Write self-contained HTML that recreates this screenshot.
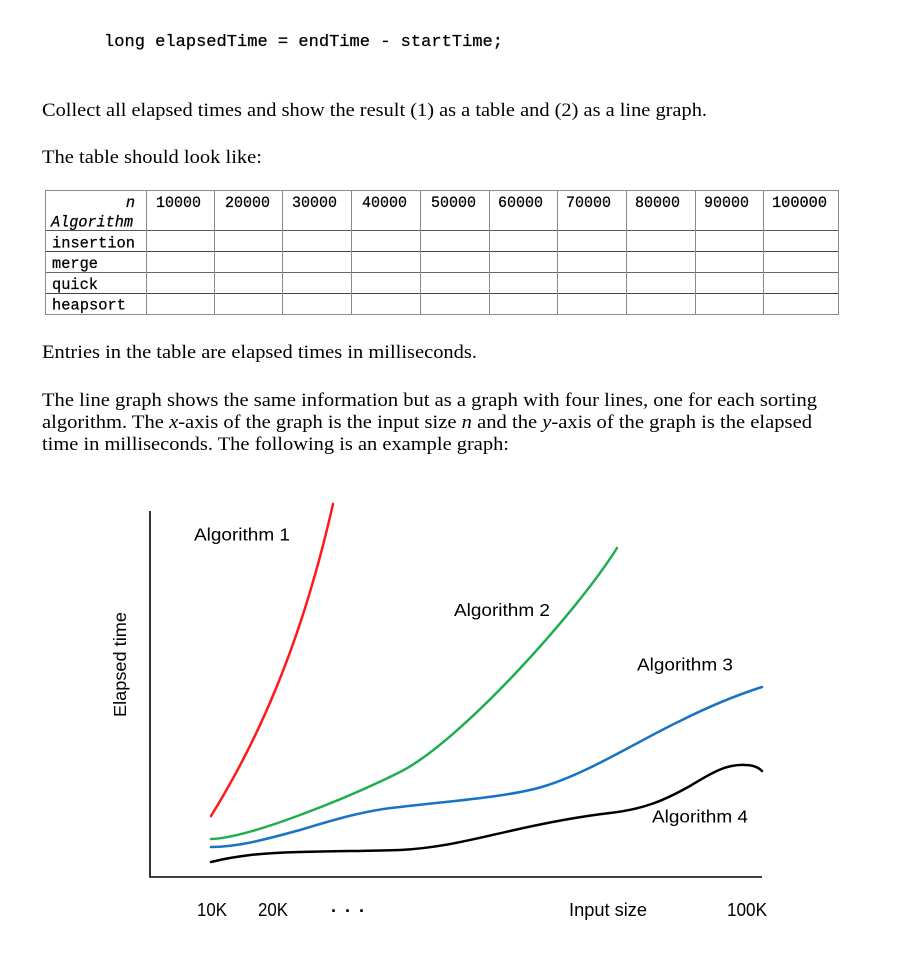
<!DOCTYPE html>
<html>
<head>
<meta charset="utf-8">
<style>
  html, body { margin: 0; padding: 0; background: #ffffff; }
  svg { display: block; }
  .serif { font-family: "Liberation Serif", "Times New Roman", serif; font-size: 19px; fill: #000; }
  .mono { font-family: "Liberation Mono", monospace; fill: #000; stroke: #000; stroke-width: 0.25; }
  .sans { font-family: "Liberation Sans", Arial, sans-serif; fill: #000; }
</style>
</head>
<body>
<svg width="898" height="960" viewBox="0 0 898 960" xmlns="http://www.w3.org/2000/svg">
  <rect width="898" height="960" fill="#ffffff"/>

  <!-- code line -->
  <text class="mono" x="104" y="46" font-size="17" textLength="399" lengthAdjust="spacingAndGlyphs">long elapsedTime = endTime - startTime;</text>

  <!-- paragraphs -->
  <text class="serif" x="42" y="116" textLength="665" lengthAdjust="spacingAndGlyphs">Collect all elapsed times and show the result (1) as a table and (2) as a line graph.</text>
  <text class="serif" x="42" y="163" textLength="220" lengthAdjust="spacingAndGlyphs">The table should look like:</text>

  <!-- table -->
  <g shape-rendering="crispEdges">
    <line x1="45" y1="190.5" x2="838" y2="190.5" stroke="#8a8a8a" stroke-width="1"/>
    <line x1="45" y1="230.5" x2="838" y2="230.5" stroke="#555" stroke-width="1"/>
    <line x1="45" y1="251.5" x2="838" y2="251.5" stroke="#444" stroke-width="1"/>
    <line x1="45" y1="272.5" x2="838" y2="272.5" stroke="#666" stroke-width="1"/>
    <line x1="45" y1="293.5" x2="838" y2="293.5" stroke="#444" stroke-width="1"/>
    <line x1="45" y1="314.5" x2="838" y2="314.5" stroke="#8a8a8a" stroke-width="1"/>
    <g stroke="#8a8a8a" stroke-width="1">
      <line x1="45.5" y1="190" x2="45.5" y2="315"/>
      <line x1="146.5" y1="190" x2="146.5" y2="315"/>
      <line x1="214.5" y1="190" x2="214.5" y2="315"/>
      <line x1="282.5" y1="190" x2="282.5" y2="315"/>
      <line x1="351.5" y1="190" x2="351.5" y2="315"/>
      <line x1="420.5" y1="190" x2="420.5" y2="315"/>
      <line x1="489.5" y1="190" x2="489.5" y2="315"/>
      <line x1="557.5" y1="190" x2="557.5" y2="315"/>
      <line x1="626.5" y1="190" x2="626.5" y2="315"/>
      <line x1="695.5" y1="190" x2="695.5" y2="315"/>
      <line x1="763.5" y1="190" x2="763.5" y2="315"/>
      <line x1="838.5" y1="190" x2="838.5" y2="315"/>
    </g>
  </g>
  <g class="mono" font-size="15.3">
    <text x="135" y="207" text-anchor="end" font-style="italic">n</text>
    <text x="156" y="207" textLength="45" lengthAdjust="spacingAndGlyphs">10000</text>
    <text x="225" y="207" textLength="45" lengthAdjust="spacingAndGlyphs">20000</text>
    <text x="292" y="207" textLength="45" lengthAdjust="spacingAndGlyphs">30000</text>
    <text x="362" y="207" textLength="45" lengthAdjust="spacingAndGlyphs">40000</text>
    <text x="431" y="207" textLength="45" lengthAdjust="spacingAndGlyphs">50000</text>
    <text x="498" y="207" textLength="45" lengthAdjust="spacingAndGlyphs">60000</text>
    <text x="566" y="207" textLength="45" lengthAdjust="spacingAndGlyphs">70000</text>
    <text x="635" y="207" textLength="45" lengthAdjust="spacingAndGlyphs">80000</text>
    <text x="704" y="207" textLength="45" lengthAdjust="spacingAndGlyphs">90000</text>
    <text x="772" y="207" textLength="55" lengthAdjust="spacingAndGlyphs">100000</text>
    <text x="51" y="226.5" font-style="italic" textLength="82" lengthAdjust="spacingAndGlyphs">Algorithm</text>
    <text x="52" y="247.5" textLength="83" lengthAdjust="spacingAndGlyphs">insertion</text>
    <text x="52" y="268" textLength="46" lengthAdjust="spacingAndGlyphs">merge</text>
    <text x="52" y="289" textLength="46" lengthAdjust="spacingAndGlyphs">quick</text>
    <text x="52" y="309.5" textLength="74" lengthAdjust="spacingAndGlyphs">heapsort</text>
  </g>

  <text class="serif" x="42" y="358" textLength="435" lengthAdjust="spacingAndGlyphs">Entries in the table are elapsed times in milliseconds.</text>

  <text class="serif" x="42" y="406" textLength="775" lengthAdjust="spacingAndGlyphs">The line graph shows the same information but as a graph with four lines, one for each sorting</text>
  <text class="serif" x="42" y="428" textLength="770" lengthAdjust="spacingAndGlyphs">algorithm. The <tspan font-style="italic">x</tspan>-axis of the graph is the input size <tspan font-style="italic">n</tspan> and the <tspan font-style="italic">y</tspan>-axis of the graph is the elapsed</text>
  <text class="serif" x="42" y="450" textLength="467" lengthAdjust="spacingAndGlyphs">time in milliseconds. The following is an example graph:</text>

  <!-- chart axes -->
  <path d="M150,511 L150,877 L762,877" fill="none" stroke="#000" stroke-width="1.6"/>

  <!-- Algorithm 1 (red) -->
  <path d="M211,816 C255,745 300,650 333,504" fill="none" stroke="#ff1a1a" stroke-width="2.5" stroke-linecap="round"/>

  <!-- Algorithm 2 (green) -->
  <path d="M211,839 C250,838 350,797 400,772 C460,742 577,612 617,548" fill="none" stroke="#1fae4f" stroke-width="2.5" stroke-linecap="round"/>

  <!-- Algorithm 3 (blue) -->
  <path d="M211,847 C240,847 270,838 300,830 C330,821 365,810 400,807 C450,801 510,797 545,786 C590,772 640,740 680,721 C710,706 740,694 762,687" fill="none" stroke="#1a72c4" stroke-width="2.5" stroke-linecap="round"/>

  <!-- Algorithm 4 (black) -->
  <path d="M211,862 C235,856 260,853 300,852 C340,851 370,851 400,850 C440,848 470,840 510,831 C545,823 575,817 610,813 C645,809 665,800 690,786 C710,774 725,764 745,765 C752,765 758,767 762,771" fill="none" stroke="#000" stroke-width="2.5" stroke-linecap="round"/>

  <!-- chart labels -->
  <g class="sans" font-size="17.5">
    <text x="194" y="540.5" textLength="96" lengthAdjust="spacingAndGlyphs">Algorithm 1</text>
    <text x="454" y="616" textLength="96" lengthAdjust="spacingAndGlyphs">Algorithm 2</text>
    <text x="637" y="670.5" textLength="96" lengthAdjust="spacingAndGlyphs">Algorithm 3</text>
    <text x="652" y="822.5" textLength="96" lengthAdjust="spacingAndGlyphs">Algorithm 4</text>
    <text transform="translate(126,664.5) rotate(-90)" x="0" y="0" text-anchor="middle" textLength="105" lengthAdjust="spacingAndGlyphs">Elapsed time</text>
  </g>
  <g class="sans" font-size="18">
    <text x="197" y="916" textLength="30" lengthAdjust="spacingAndGlyphs">10K</text>
    <text x="258" y="916" textLength="30" lengthAdjust="spacingAndGlyphs">20K</text>
    <text x="569" y="916" textLength="78" lengthAdjust="spacingAndGlyphs">Input size</text>
    <text x="727" y="916" textLength="40" lengthAdjust="spacingAndGlyphs">100K</text>
  </g>
  <text class="sans" font-size="18" x="331" y="917" textLength="34" lengthAdjust="spacing" font-weight="bold">· · ·</text>
</svg>
</body>
</html>
